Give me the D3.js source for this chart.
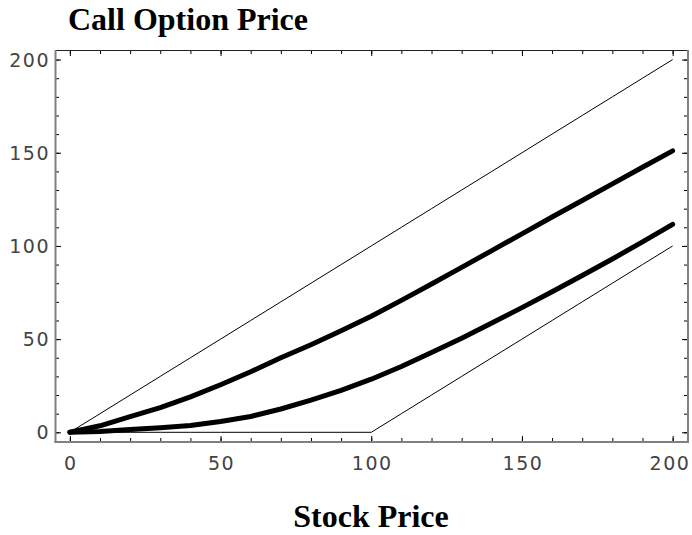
<!DOCTYPE html>
<html>
<head>
<meta charset="utf-8">
<script src="https://cdn.jsdelivr.net/npm/d3@7"></script>
<style>
  body { margin: 0; background: #fff; }
  svg { display: block; }
  .tick-label { font-family: "DejaVu Sans", sans-serif; font-size: 19px; fill: #444; letter-spacing: 1.5px; }
  .title { font-family: "Liberation Serif", "Times New Roman", serif; font-size: 32px; font-weight: bold; fill: #000; }
</style>
</head>
<body>
<svg id="chart" width="692" height="535"></svg>
<script>
// stock price grid and the option values
const stock = [0, 10, 20, 30, 40, 50, 60, 70, 80, 90, 100, 110, 120, 130, 140, 150, 160, 170, 180, 190, 200];
const callHigh = [0, 3.5, 8.4, 13.2, 19, 25.5, 32.5, 40, 47, 54.5, 62.3, 70.8, 79.6, 88.5, 97.5, 106.5, 115.5, 124.4, 133.3, 142.2, 151];
const callLow = [0, 0.4, 1.5, 2.5, 3.7, 5.8, 8.5, 12.5, 17.3, 22.5, 28.5, 35.3, 42.8, 50.5, 58.6, 66.9, 75.4, 84.1, 93, 102.2, 111.6];
const upperBound = [0, 10, 20, 30, 40, 50, 60, 70, 80, 90, 100, 110, 120, 130, 140, 150, 160, 170, 180, 190, 200];
const lowerBound = [0, 0, 0, 0, 0, 0, 0, 0, 0, 0, 0, 10, 20, 30, 40, 50, 60, 70, 80, 90, 100];

const majorTicks = [0, 50, 100, 150, 200];
const minorTicks = d3.range(0, 201, 10);

const svg = d3.select('#chart');

const x = d3.scaleLinear().domain([-4.6, 205.1]).range([56, 688]);
const y = d3.scaleLinear().domain([-5.2, 204.6]).range([442, 51]);

const line = vals => d3.line()
    .x((d, i) => x(stock[i]))
    .y(d => y(d))(vals);

// curves
svg.append('path').attr('d', line(upperBound))
    .attr('fill', 'none').attr('stroke', '#000').attr('stroke-width', 1);
svg.append('path').attr('d', line(lowerBound))
    .attr('fill', 'none').attr('stroke', '#000').attr('stroke-width', 1);
svg.append('path').attr('d', line(callHigh))
    .attr('fill', 'none').attr('stroke', '#000').attr('stroke-width', 5)
    .attr('stroke-linejoin', 'round').attr('stroke-linecap', 'round');
svg.append('path').attr('d', line(callLow))
    .attr('fill', 'none').attr('stroke', '#000').attr('stroke-width', 5)
    .attr('stroke-linejoin', 'round').attr('stroke-linecap', 'round');

// frame ticks (pointing inwards)
function ticks(axisFn, scale, vals, size, transform) {
    const g = svg.append('g').attr('transform', transform)
        .call(axisFn(scale).tickValues(vals).tickSizeInner(-size).tickSizeOuter(0).tickFormat(''));
    g.select('.domain').remove();
    g.selectAll('line').attr('stroke', '#000').attr('stroke-width', 1);
}
ticks(d3.axisBottom, x, minorTicks, 3, 'translate(0,441)');
ticks(d3.axisBottom, x, majorTicks, 5, 'translate(0,441)');
ticks(d3.axisTop, x, minorTicks, 3, 'translate(0,51)');
ticks(d3.axisTop, x, majorTicks, 5, 'translate(0,51)');
ticks(d3.axisLeft, y, minorTicks, 3, 'translate(56,0)');
ticks(d3.axisLeft, y, majorTicks, 5, 'translate(56,0)');
ticks(d3.axisRight, y, minorTicks, 3, 'translate(687,0)');
ticks(d3.axisRight, y, majorTicks, 5, 'translate(687,0)');

// frame
svg.append('line').attr('x1', 55).attr('x2', 689).attr('y1', 50.5).attr('y2', 50.5)
    .attr('stroke', '#222').attr('stroke-width', 1.2);
svg.append('line').attr('x1', 55.5).attr('x2', 55.5).attr('y1', 50).attr('y2', 443)
    .attr('stroke', '#808080').attr('stroke-width', 2);
svg.append('line').attr('x1', 54.5).attr('x2', 689).attr('y1', 442).attr('y2', 442)
    .attr('stroke', '#808080').attr('stroke-width', 2);
svg.append('line').attr('x1', 688).attr('x2', 688).attr('y1', 50).attr('y2', 443)
    .attr('stroke', '#808080').attr('stroke-width', 2);

// tick labels
svg.selectAll('.xl').data(majorTicks).enter().append('text')
    .attr('class', 'tick-label')
    .attr('x', d => Math.min(x(d) + 1, 670)).attr('y', 470)
    .attr('text-anchor', 'middle')
    .text(d => d);
svg.selectAll('.yl').data(majorTicks).enter().append('text')
    .attr('class', 'tick-label')
    .attr('x', 50).attr('y', d => y(d) + 7)
    .attr('text-anchor', 'end')
    .text(d => d);

// titles
svg.append('text').attr('class', 'title').attr('x', 68).attr('y', 30).text('Call Option Price');
svg.append('text').attr('class', 'title').attr('x', 371).attr('y', 527)
    .attr('text-anchor', 'middle').text('Stock Price');
</script>
</body>
</html>
